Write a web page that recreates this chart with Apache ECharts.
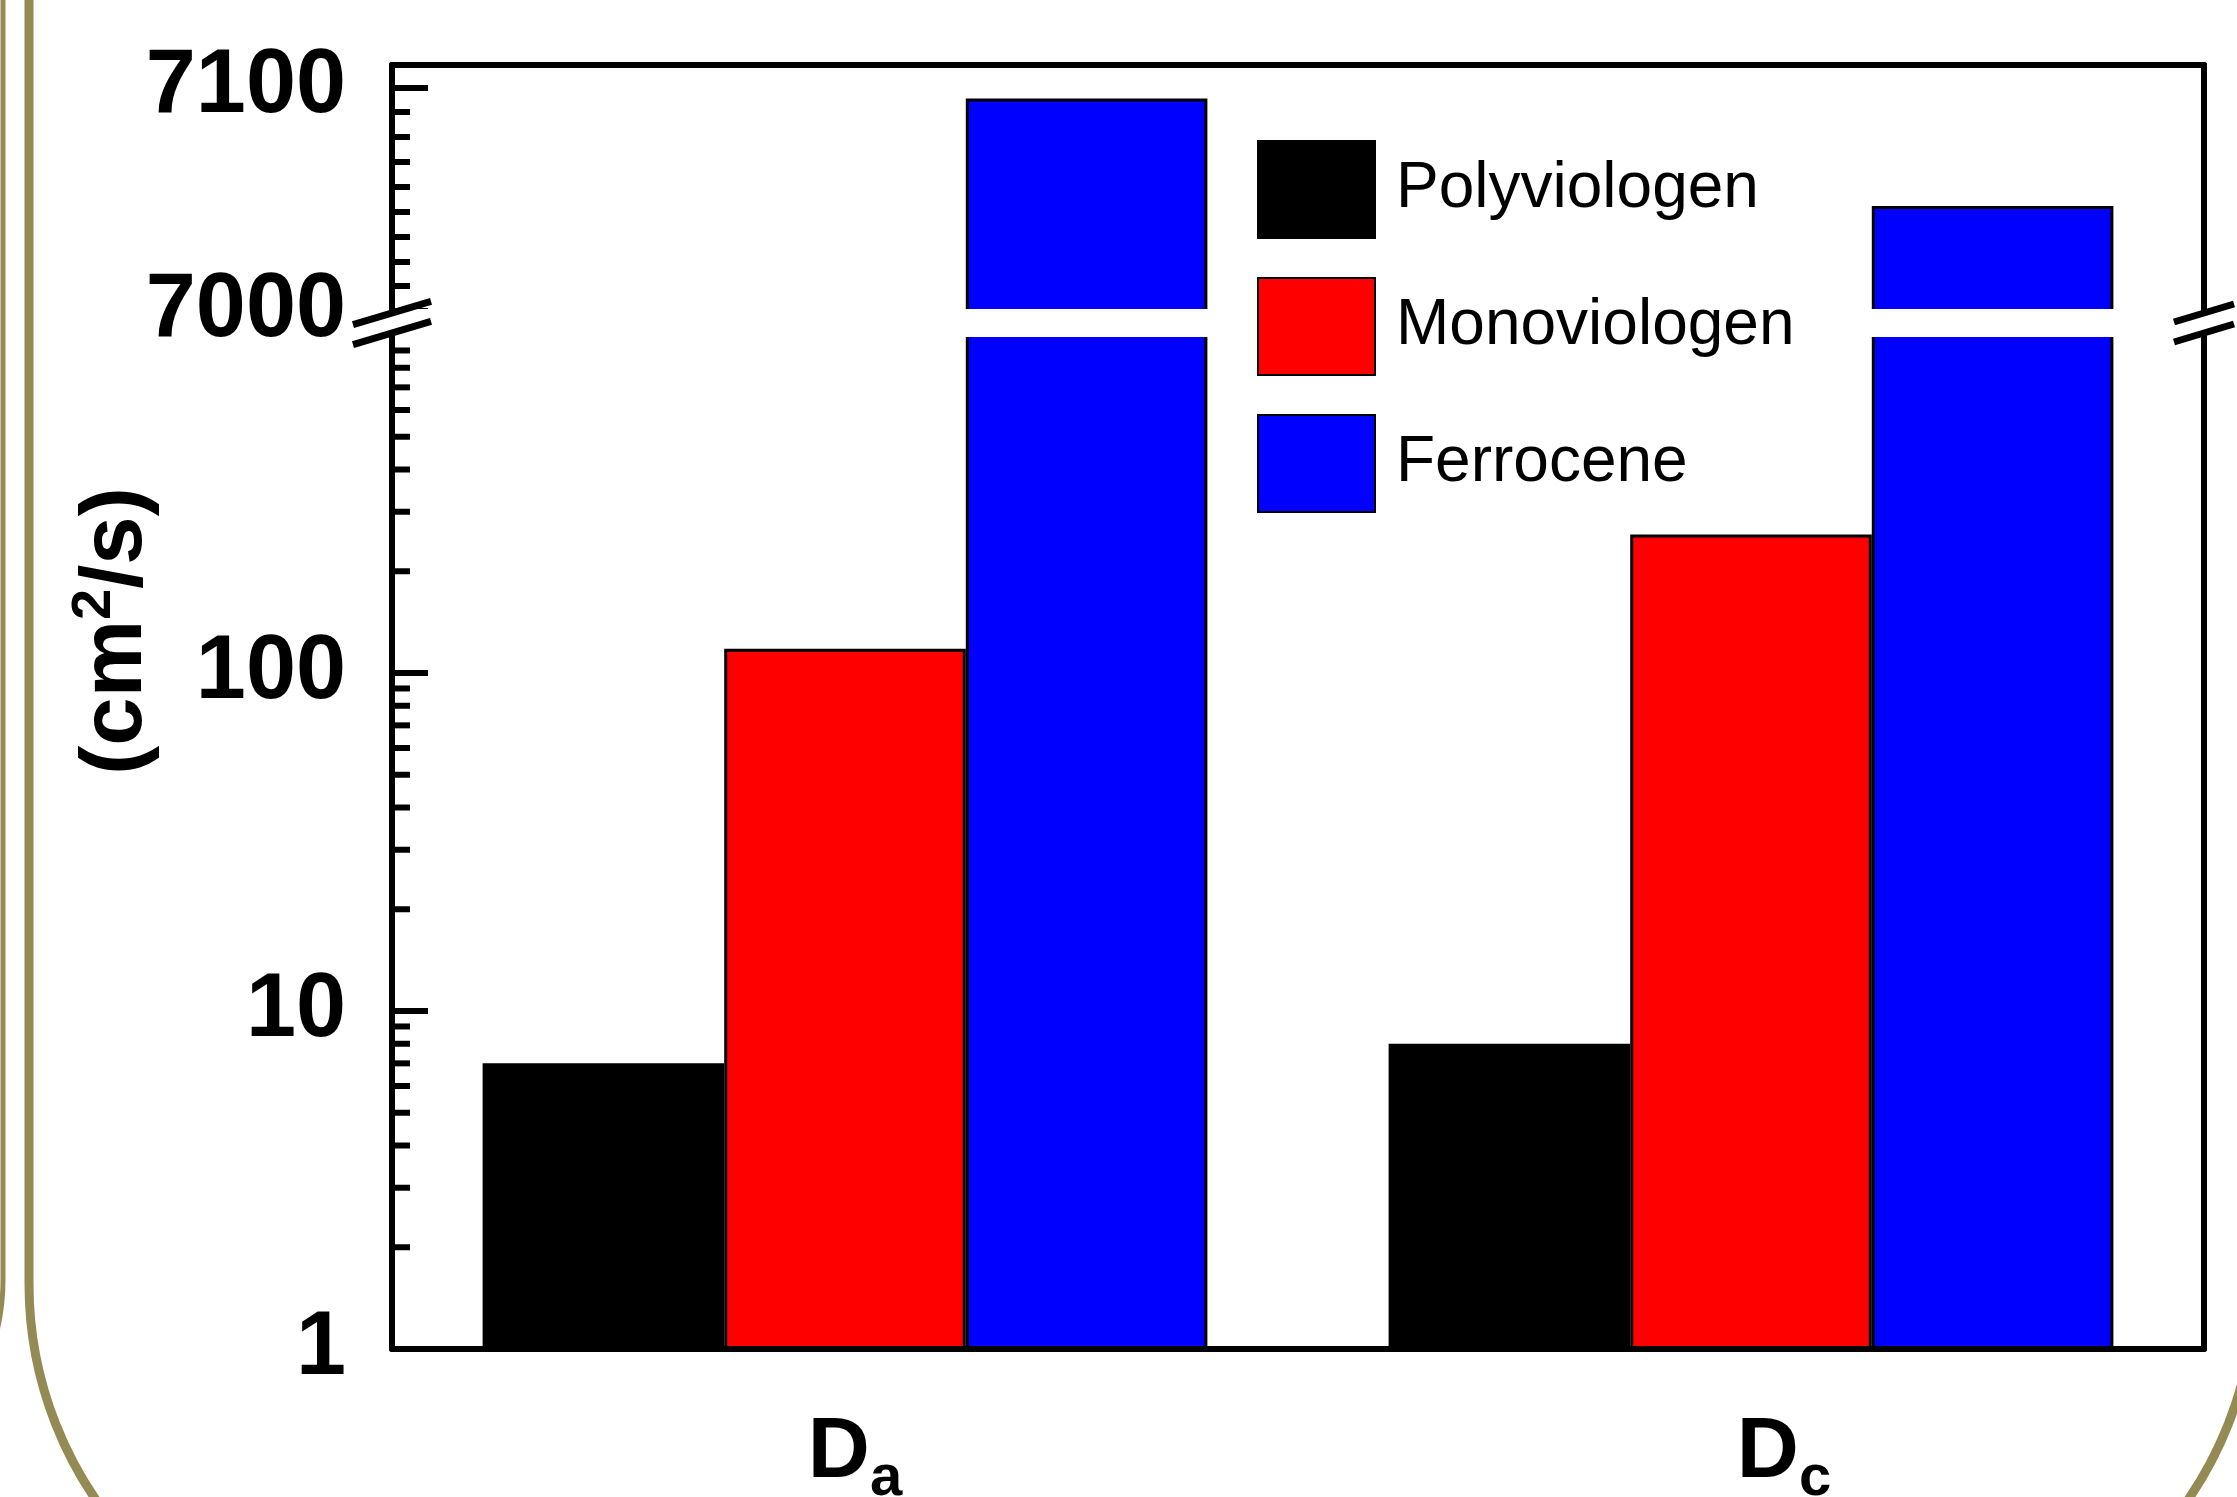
<!DOCTYPE html>
<html>
<head>
<meta charset="utf-8">
<title>Diffusion coefficients</title>
<script src="https://cdn.jsdelivr.net/npm/echarts@6/dist/echarts.min.js"></script>
<style>
  html, body { margin: 0; padding: 0; background: #fff; }
  #chart { width: 2237px; height: 1497px; }
</style>
</head>
<body>
<div id="chart"></div>
<script>
// categories on the x axis
const categories = ['Da', 'Dc'];

// bar values (cm2/s)
const polyviologen = [7.0, 8.0];
const monoviologen = [118, 257];
const ferrocene = [7095, 7047];

// broken y axis: lower part log 1..1000, upper part linear 7000..7110
const lowRange = [1, 1000];
const highRange = [7000, 7110];

// tick values of the log part
const logMajorTicks = [1, 10, 100];
const logMinorTicks = [2, 3, 4, 5, 6, 7, 8, 9, 20, 30, 40, 50, 60, 70, 80, 90, 200, 300, 400, 500, 600, 700, 800, 900];

const FONT = "'Liberation Sans', Arial, Helvetica, sans-serif";
const OLIVE = '#948a54';

// layout (px)
const gridLeft = 392, gridWidth = 1812;
const topTop = 65, topHeight = 246;
const lowTop = 335, lowHeight = 1014;

const chart = echarts.init(document.getElementById('chart'));

// only values above the break show up in the upper part
function upperPart (arr) {
  return arr.map(v => (v >= highRange[0] ? v : '-'));
}

function bars (name, data, color, upper) {
  return {
    name: name,
    type: 'bar',
    data: data,
    xAxisIndex: upper ? 0 : 1,
    yAxisIndex: upper ? 0 : 2,
    barGap: 0,
    barCategoryGap: '20%',
    clip: true,
    itemStyle: { color: color, borderColor: '#000', borderWidth: 3 }
  };
}

const line = { show: true, lineStyle: { color: '#000', width: 6 } };
const bold = { fontSize: 90, fontWeight: 'bold', fontFamily: FONT, color: '#000' };

// the // marks on both sides of the axis break
function breakMark (cx, halfW) {
  const cy = (topTop + topHeight + lowTop) / 2;
  const k = 0.3;
  return [-10, 10].map(d => ({
    type: 'line',
    shape: { x1: cx - halfW, y1: cy + d + k * halfW, x2: cx + halfW, y2: cy + d - k * halfW },
    style: { stroke: '#000', lineWidth: 7 },
    z: 100
  }));
}

const frameStyle = { stroke: OLIVE, lineWidth: 9, fill: null };

const option = {
  animation: false,
  backgroundColor: '#fff',
  grid: [
    { left: gridLeft, top: topTop, width: gridWidth, height: topHeight, outerBoundsMode: 'none' },
    { left: gridLeft, top: lowTop, width: gridWidth, height: lowHeight, outerBoundsMode: 'none' }
  ],
  legend: {
    data: ['Polyviologen', 'Monoviologen', 'Ferrocene'],
    orient: 'vertical',
    left: 1257,
    top: 140,
    padding: 0,
    z: 60,
    itemWidth: 117,
    itemHeight: 97,
    itemGap: 38,
    icon: 'rect',
    selectedMode: false,
    textStyle: { fontSize: 64, fontFamily: FONT, color: '#000', padding: [0, 0, 0, 16] }
  },
  xAxis: [
    {
      type: 'category', gridIndex: 0, data: categories, position: 'top',
      axisLine: Object.assign({ onZero: false }, line),
      axisTick: { show: false }, axisLabel: { show: false }
    },
    {
      type: 'category', gridIndex: 1, data: categories, position: 'bottom',
      axisLine: Object.assign({ onZero: false }, line),
      axisTick: { show: false },
      axisLabel: {
        interval: 0,
        margin: 49,
        formatter: (val, idx) => '{d' + idx + '|D}{s|' + val.slice(1) + '}',
        rich: {
          d0: { fontSize: 86, lineHeight: 110, padding: [0, 0, 0, 20], fontWeight: 'bold', fontFamily: FONT, color: '#000' },
          d1: { fontSize: 86, lineHeight: 110, padding: [0, 0, 0, 66], fontWeight: 'bold', fontFamily: FONT, color: '#000' },
          s: { fontSize: 58, lineHeight: 30, verticalAlign: 'bottom', fontWeight: 'bold', fontFamily: FONT, color: '#000' }
        }
      }
    }
  ],
  yAxis: [
    {
      type: 'value', gridIndex: 0, position: 'left',
      min: highRange[0], max: highRange[1], interval: 100,
      axisLine: line,
      axisTick: { show: true, inside: true, length: 36, lineStyle: { color: '#000', width: 6 } },
      minorTick: { show: true, splitNumber: 9, length: 18, lineStyle: { color: '#000', width: 6 } },
      splitLine: { show: false },
      axisLabel: Object.assign({ showMaxLabel: false, margin: 46, formatter: v => String(v) }, bold)
    },
    {
      type: 'value', gridIndex: 0, position: 'right',
      min: highRange[0], max: highRange[1],
      axisLine: line, axisTick: { show: false }, axisLabel: { show: false }, splitLine: { show: false }
    },
    {
      type: 'log', logBase: 10, gridIndex: 1, position: 'left',
      min: lowRange[0], max: lowRange[1],
      axisLine: line,
      axisTick: { show: false },
      splitLine: { show: false },
      axisLabel: Object.assign({ showMaxLabel: false, margin: 46, formatter: v => String(v) }, bold)
    },
    {
      type: 'log', logBase: 10, gridIndex: 1, position: 'right',
      min: lowRange[0], max: lowRange[1],
      axisLine: line, axisTick: { show: false }, axisLabel: { show: false }, splitLine: { show: false }
    }
  ],
  series: [
    bars('Polyviologen', polyviologen, '#000000', false),
    bars('Monoviologen', monoviologen, '#ff0000', false),
    bars('Ferrocene', ferrocene, '#0000ff', false),
    bars('Polyviologen', upperPart(polyviologen), '#000000', true),
    bars('Monoviologen', upperPart(monoviologen), '#ff0000', true),
    bars('Ferrocene', upperPart(ferrocene), '#0000ff', true),
    {
      // log ticks (majors long, minors short), placed through the log axis
      type: 'custom',
      xAxisIndex: 1,
      yAxisIndex: 2,
      silent: true,
      z: 5,
      data: logMajorTicks.map(v => [0, v, 1]).concat(logMinorTicks.map(v => [0, v, 0])),
      renderItem: function (params, api) {
        const y = api.coord([0, api.value(1)])[1];
        const x0 = params.coordSys.x;
        const len = api.value(2) ? 36 : 18;
        return {
          type: 'line',
          shape: { x1: x0, y1: y, x2: x0 + len, y2: y },
          style: { stroke: '#000', lineWidth: 6 }
        };
      }
    }
  ],
  graphic: [
    // white band of the axis break, hides the cut edges of the tall bars
    {
      type: 'rect', z: 50,
      shape: { x: gridLeft + 4, y: topTop + topHeight - 2, width: gridWidth - 8, height: lowTop - topTop - topHeight + 4 },
      style: { fill: '#fff' }
    },
    // slide frame remains in olive
    { type: 'line', shape: { x1: 29, y1: -10, x2: 29, y2: 1284 }, style: frameStyle },
    { type: 'arc', shape: { cx: 410, cy: 1284, r: 381, startAngle: Math.PI / 2, endAngle: Math.PI, clockwise: true }, style: frameStyle },
    { type: 'arc', shape: { cx: 1874, cy: 1284, r: 381, startAngle: 0, endAngle: Math.PI / 2, clockwise: true }, style: frameStyle },
    { type: 'line', shape: { x1: 3, y1: -10, x2: 3, y2: 1280 }, style: { stroke: OLIVE, lineWidth: 5 } },
    { type: 'bezierCurve', shape: { x1: 3, y1: 1280, cpx1: 3, cpy1: 1330, x2: -20, y2: 1380 }, style: { stroke: OLIVE, lineWidth: 5, fill: null } },
    {
      type: 'text', x: 117, y: 631, rotation: Math.PI / 2,
      style: {
        text: '{n|(cm}{sup|2}{n|/s)}',
        align: 'center',
        verticalAlign: 'middle',
        rich: {
          n: { fontSize: 87, lineHeight: 100, fontWeight: 'bold', fontFamily: FONT, fill: '#000' },
          sup: { fontSize: 56, lineHeight: 52, verticalAlign: 'top', fontWeight: 'bold', fontFamily: FONT, fill: '#000' }
        }
      }
    }
  ].concat(breakMark(gridLeft, 39), breakMark(gridLeft + gridWidth, 30))
};

chart.setOption(option);
</script>
</body>
</html>
